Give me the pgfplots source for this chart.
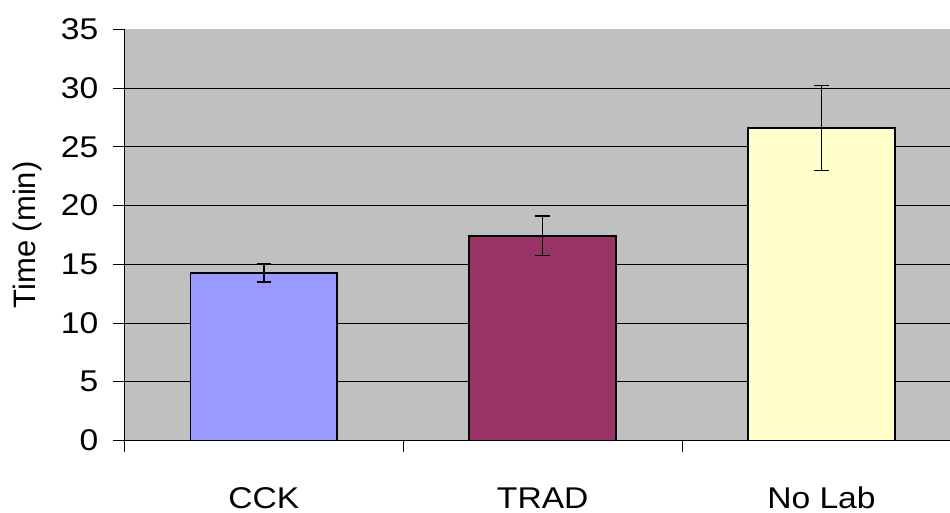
\documentclass[border=0pt]{standalone}
\usepackage{pgfplots}
\pgfplotsset{compat=1.18}
\usepackage{fontspec}
\setmainfont{Liberation Sans}
\newfontfamily\tickfont{Liberation Sans}[FakeStretch=1.12]
\definecolor{bgc}{HTML}{C0C0C0}
\definecolor{cck}{HTML}{9999FF}
\definecolor{trad}{HTML}{993366}
\definecolor{nolab}{HTML}{FFFFCC}
\begin{document}
\begin{tikzpicture}
\begin{axis}[
  name=ax,
  scale only axis,
  width=619.1pt, height=308.25pt,
  xmin=-0.5, xmax=2.461, ymin=0, ymax=35,
  axis x line=bottom, axis y line=left,
  axis line style={-, black, line width=0.75pt},
  axis background/.style={fill=bgc},
  /pgf/number format/assume math mode=true,
  ybar, bar width=0.527,
  ytick={0,5,...,30},
  extra y ticks={35},
  extra y tick style={grid=none},
  ymajorgrids,
  major grid style={black, line width=0.75pt},
  tick align=outside,
  tick style={black, line width=0.75pt},
  major tick length=9pt,
  xtick={-0.5,0.5,1.5},
  xticklabels={},
  extra x ticks={0,1,2},
  extra x tick labels={CCK,TRAD,No Lab},
  extra x tick style={major tick length=0pt, grid=none},
  yticklabel style={font=\tickfont\fontsize{22.5pt}{27pt}\selectfont, anchor=east, inner sep=0pt, xshift=-10.5pt},
  xticklabel style={font=\tickfont\fontsize{22.5pt}{27pt}\selectfont, anchor=base, inner sep=0pt, yshift=-50.9pt},
  ylabel={Time (min)},
  ylabel style={font=\fontsize{23.25pt}{28pt}\selectfont, at={(axis description cs:-0.1175,0.5)}, anchor=center, rotate=0},
  clip=false,
]
\addplot[fill=cck, draw=black, line width=1.4pt, bar shift=0pt,
  error bars/.cd, y dir=both, y explicit,
  error mark options={black, line width=1.1pt, mark size=5.5pt, rotate=90},
  error bar style={black, line width=1.1pt}]
  coordinates {(0,14.27) +- (0,0.79)};
\addplot[fill=trad, draw=black, line width=1.4pt, bar shift=0pt,
  error bars/.cd, y dir=both, y explicit,
  error mark options={black, line width=1.1pt, mark size=5.5pt, rotate=90},
  error bar style={black, line width=1.1pt}]
  coordinates {(1,17.42) +- (0,1.68)};
\addplot[fill=nolab, draw=black, line width=1.4pt, bar shift=0pt,
  error bars/.cd, y dir=both, y explicit,
  error mark options={black, line width=1.1pt, mark size=5.5pt, rotate=90},
  error bar style={black, line width=1.1pt}]
  coordinates {(2,26.62) +- (0,3.62)};
\end{axis}
\pgfresetboundingbox
\path ([shift={(-93.4pt,-54.4pt)}]ax.south west) rectangle ([shift={(0pt,22.1pt)}]ax.north east);
\end{tikzpicture}
\end{document}
